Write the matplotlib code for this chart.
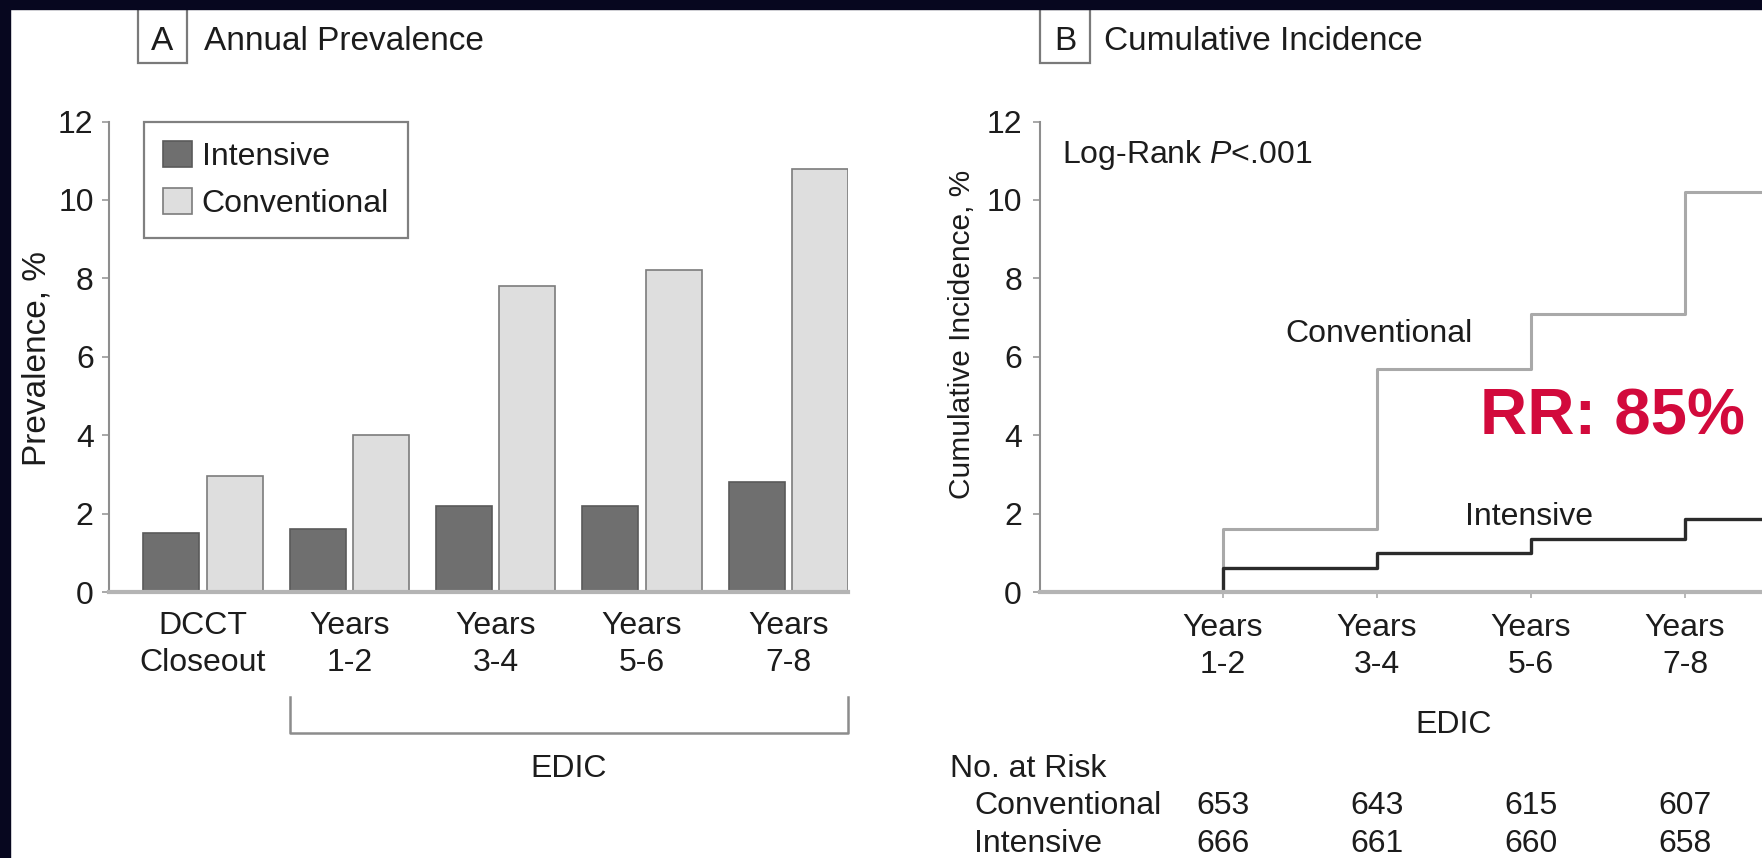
import numpy as np
import matplotlib
matplotlib.use("Agg")
import matplotlib.pyplot as plt
from matplotlib.patches import Rectangle
import matplotlib.transforms as mtransforms

plt.rcParams['font.family'] = ['Liberation Sans', 'DejaVu Sans']
plt.rcParams['mathtext.fontset'] = 'custom'
plt.rcParams['mathtext.rm'] = 'Liberation Sans'
plt.rcParams['mathtext.it'] = 'Liberation Sans:italic'

#### Data ####

prev_groups = ["DCCT\nCloseout", "Years\n1-2", "Years\n3-4", "Years\n5-6", "Years\n7-8"]
prev_intensive = [1.5, 1.6, 2.2, 2.2, 2.8]
prev_conventional = [2.95, 4.0, 7.8, 8.2, 10.8]

cum_labels = ["Years\n1-2", "Years\n3-4", "Years\n5-6", "Years\n7-8"]
cum_x = [0, 1, 2, 3, 4]
cum_conventional = [0, 1.6, 5.7, 7.1, 10.2]
cum_intensive = [0, 0.6, 1.0, 1.35, 1.85]

risk_conventional = [653, 643, 615, 607]
risk_intensive = [666, 661, 660, 658]

#### Layout helpers (pixels -> figure fraction) ####

W, H = 1762, 858
def fx(px):
    return px / W
def fy(py):
    return 1 - py / H

FS = 23
TXT = '#1c1c1c'
DARK = '#6f6f6f'
LIGHT = '#dedede'
EDGE = '#7c7c7c'

fig = plt.figure(figsize=(W / 100, H / 100), dpi=100)
fig.patch.set_facecolor('white')

ax_top, ax_bot = 121.5, 592
axA = fig.add_axes([fx(109), fy(ax_bot), fx(848) - fx(109), fy(ax_top) - fy(ax_bot)])
axB = fig.add_axes([fx(1040), fy(ax_bot), 1 - fx(1040), fy(ax_top) - fy(ax_bot)])

#### Panel A : bars ####

pos = np.arange(len(prev_groups))
bw = 0.383
off = 0.216
b1 = axA.bar(pos - off, prev_intensive, bw, color=DARK, edgecolor='#5a5a5a', linewidth=1.2, label='Intensive')
b2 = axA.bar(pos + off, prev_conventional, bw, color=LIGHT, edgecolor=EDGE, linewidth=1.2, label='Conventional')

x_left = pos[1] - off - bw / 2
x_right = pos[-1] + off + bw / 2
axA.set_xlim(-0.642, x_right)
axA.set_ylim(0, 12)
axA.set_yticks(range(0, 13, 2))
axA.set_xticks(pos)
axA.set_xticklabels(prev_groups, fontsize=FS, color=TXT, linespacing=1.3)
axA.tick_params(axis='x', length=0, pad=14)
axA.tick_params(axis='y', length=5, width=1.2, color='#999999', pad=6, labelsize=FS, labelcolor=TXT)

leg = axA.legend(handles=[b1, b2], loc='upper left', bbox_to_anchor=(0.047, 1.0), borderaxespad=0,
                 fontsize=FS, frameon=True, fancybox=False, edgecolor='#808080', framealpha=1,
                 handlelength=0.92, handleheight=0.9, handletextpad=0.3, borderpad=0.6, labelspacing=0.5)
leg.get_frame().set_linewidth(1.6)
for t in leg.get_texts():
    t.set_color(TXT)

# bracket for EDIC
tr = mtransforms.blended_transform_factory(axA.transData, fig.transFigure)
axA.plot([x_left, x_left, x_right, x_right], [fy(697), fy(733), fy(733), fy(697)],
         color='#8c8c8c', lw=1.8, transform=tr, clip_on=False)
axA.text((x_left + x_right) / 2, fy(769), "EDIC", fontsize=FS, color=TXT, ha='center', va='center', transform=tr)

#### Panel B : cumulative incidence ####

x_end = 4.5
axB.step(cum_x + [x_end], cum_conventional + [cum_conventional[-1]], where='post', color='#a9a9a9', lw=2.2, zorder=2)
axB.step(cum_x + [x_end], cum_intensive + [cum_intensive[-1]], where='post', color='#2b2b2b', lw=2.4, zorder=2.1)

axB.set_xlim(-0.188, x_end)
axB.set_ylim(0, 12)
axB.set_yticks(range(0, 13, 2))
axB.set_xticks(range(1, len(cum_labels) + 1))
axB.set_xticklabels(cum_labels, fontsize=FS, color=TXT, linespacing=1.3)
axB.tick_params(axis='x', length=4, width=1.2, color='#aaaaaa', pad=11)
axB.tick_params(axis='y', length=5, width=1.2, color='#999999', pad=8, labelsize=FS, labelcolor=TXT)

axB.text(-0.045, 11.15, "Log-Rank $\\mathit{P}$<.001", fontsize=FS, color=TXT, ha='left', va='center')
axB.text(2.01, 6.58, "Conventional", fontsize=FS, color=TXT, ha='center', va='center')
axB.text(2.99, 1.92, "Intensive", fontsize=FS, color=TXT, ha='center', va='center')
axB.text(3.53, 4.44, "RR: 85%", fontsize=47, fontweight='bold', color='#d20a3c', ha='center', va='center')

trB = mtransforms.blended_transform_factory(axB.transData, fig.transFigure)
axB.text(2.5, fy(725), "EDIC", fontsize=FS, color=TXT, ha='center', va='center', transform=trB)

# number at risk
fig.text(fx(950), fy(769), "No. at Risk", fontsize=FS, color=TXT, ha='left', va='center')
fig.text(fx(974), fy(806), "Conventional", fontsize=FS, color=TXT, ha='left', va='center')
fig.text(fx(974), fy(844), "Intensive", fontsize=FS, color=TXT, ha='left', va='center')
for i in range(len(risk_conventional)):
    axB.text(i + 1, fy(806), str(risk_conventional[i]), fontsize=FS, color=TXT, ha='center', va='center', transform=trB)
    axB.text(i + 1, fy(844), str(risk_intensive[i]), fontsize=FS, color=TXT, ha='center', va='center', transform=trB)

#### spines ####

for ax in (axA, axB):
    ax.spines['top'].set_visible(False)
    ax.spines['right'].set_visible(False)
    ax.spines['left'].set_color('#8e8e8e')
    ax.spines['left'].set_linewidth(1.5)
    ax.spines['bottom'].set_color('#b4b4b4')
    ax.spines['bottom'].set_linewidth(3)
    ax.set_facecolor('none')

#### y labels ####

fig.text(fx(37), fy(358), "Prevalence, %", fontsize=24, color=TXT, rotation=90, ha='center', va='center')
fig.text(fx(962), fy(334), "Cumulative Incidence, %", fontsize=21.5, color=TXT, rotation=90, ha='center', va='center')

#### frame and titles with boxed letters ####

fig.patches.append(Rectangle((0, fy(9)), 1, 9 / H, transform=fig.transFigure, color='#07071f', zorder=5))
fig.patches.append(Rectangle((0, 0), fx(10), 1, transform=fig.transFigure, color='#07071f', zorder=5))

for bx0, bx1, letter, title, tx in [(138, 187, "A", "Annual Prevalence", 204),
                                    (1040, 1090, "B", "Cumulative Incidence", 1104)]:
    fig.patches.append(Rectangle((fx(bx0), fy(63)), fx(bx1) - fx(bx0), (63 - 9) / H, transform=fig.transFigure,
                                 facecolor='white', edgecolor='#7a7a7a', lw=1.6, zorder=4))
    fig.text(fx((bx0 + bx1) / 2), fy(42), letter, fontsize=24, color=TXT, ha='center', va='center', zorder=6)
    fig.text(fx(tx), fy(42), title, fontsize=24, color=TXT, ha='left', va='center', zorder=6)

fig.savefig("out.png", dpi=100)
